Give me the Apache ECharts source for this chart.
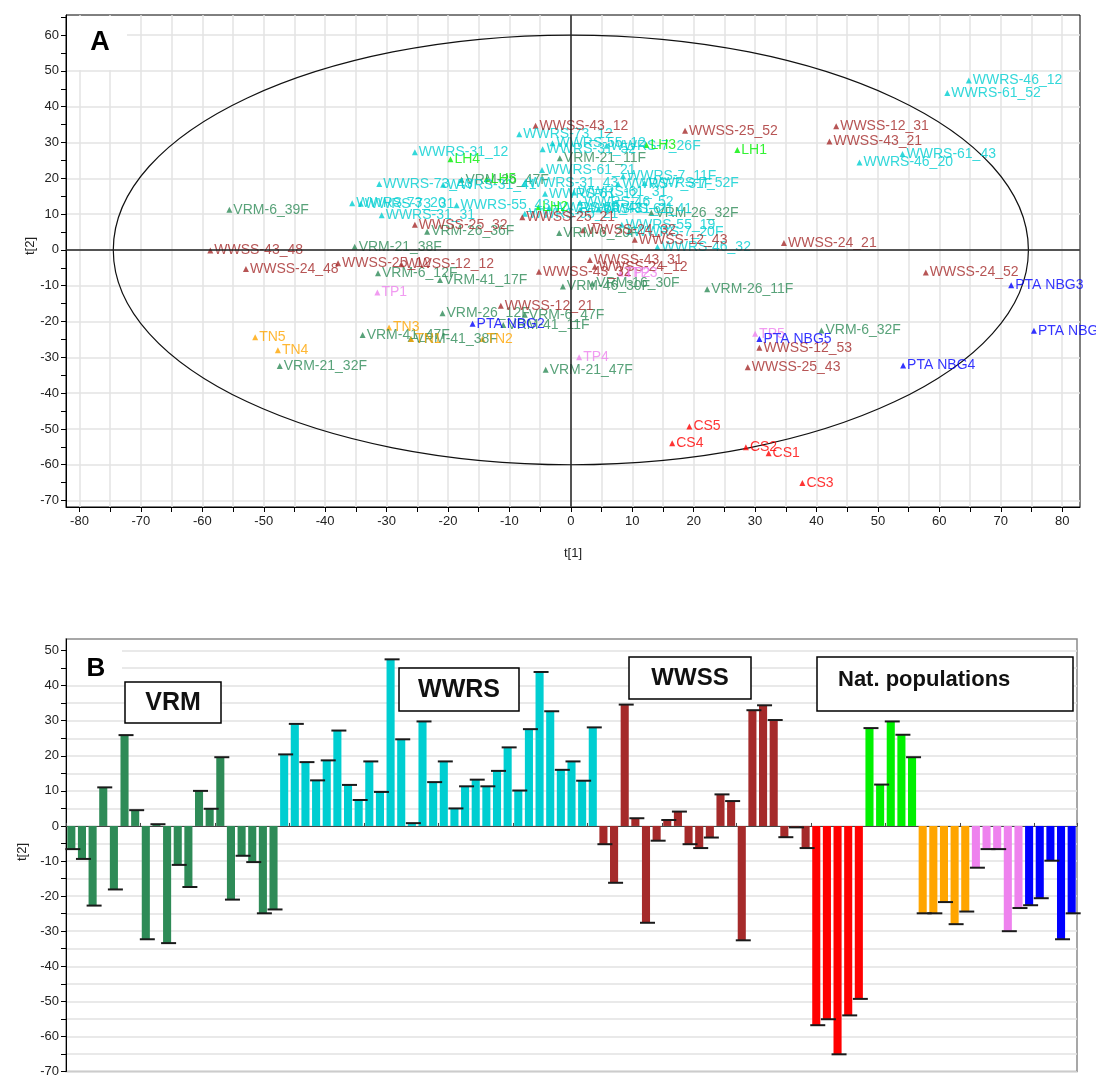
<!DOCTYPE html>
<html>
<head>
<meta charset="utf-8">
<title>PCA scores t[1]/t[2]</title>
<script src="https://cdn.jsdelivr.net/npm/echarts@6/dist/echarts.min.js"></script>
<style>
  html, body { margin: 0; padding: 0; background: #fff; }
  #main { width: 1096px; height: 1078px; }
</style>
</head>
<body>
<div id="main"></div>
<script>
// ---------- A: score plot, one triple of arrays per group (name, t[1], t[2]) ----------
var vrmNames = ['VRM-6_39F','VRM-21_11F','VRM-26_47F','VRM-26_32F','VRM-26_36F','VRM-6_20F','VRM-21_38F','VRM-6_12F','VRM-41_17F','VRM-46_30F',
                'VRM-16_30F','VRM-26_11F','VRM-26_12F','VRM-6_47F','VRM-41_11F','VRM-6_32F','VRM-41_47F','VRM-41_38F','VRM-21_32F','VRM-21_47F'];
var vrmT1 = [-55.6,-1.8,-17.8,13.1,-23.4,-1.9,-35.2,-31.4,-21.3,-1.3, 3.5,22.2,-20.9,-7.5,-11.0,40.8,-33.9,-26.1,-47.4,-4.1];
var vrmT2 = [11.2,25.6,19.6,10.4,5.1,4.7,0.9,-6.5,-8.4,-10.2, -9.4,-11.0,-17.7,-18.1,-21.0,-22.5,-23.8,-24.9,-32.4,-33.5];

var wwrsNames = ['WWRS-46_12','WWRS-61_52','WWRS-73_12','WWRS-55_12','WWRS-7_26F','WWRS-31_52','WWRS-31_12','WWRS-61_43','WWRS-46_20','WWRS-61_21',
                 'WWRS-7_11F','WWRS-73_43','WWRS-31_41','WWRS-31_43','WWRS-7_31F','WWRS-7_52F','WWRS-61_12','WWRS-61_31','WWRS-46_52','WWRS-73_20',
                 'WWRS-73_31','WWRS-55_43','WWRS-55_41','WWRS-55_21','WWRS-31_21','WWRS-61_41','WWRS-31_31','WWRS-55_19','WWRS-7_20F','WWRS-46_32'];
var wwrsT1 = [64.8,61.3,-8.4,-3.0,5.8,-4.6,-25.4,54.0,47.0,-4.7, 8.5,-31.2,-20.8,-7.5,7.7,12.0,-4.2,0.5,1.5,-35.6, -34.2,-18.6,-3.5,-7.5,1.5,4.5,-30.8,8.3,9.5,14.1];
var wwrsT2 = [47.3,43.8,32.3,29.8,29.1,28.1,27.3,26.8,24.4,22.3, 20.6,18.4,18.2,18.6,18.4,18.7,15.7,16.0,13.2,13.0, 12.9,12.5,11.7,10.1,11.3,11.3,9.7,7.0,5.0,0.8];

var wwssNames = ['WWSS-43_12','WWSS-12_31','WWSS-25_52','WWSS-43_21','WWSS-25_21','WWSS-25_32','WWSS-24_32','WWSS-12_43','WWSS-24_21','WWSS-43_48',
                 'WWSS-43_31','WWSS-25_12','WWSS-12_12','WWSS-24_12','WWSS-24_48','WWSS-43_32','WWSS-24_52','WWSS-12_21','WWSS-12_53','WWSS-25_43'];
var wwssT1 = [-5.75,43.2,18.6,42.1,-7.9,-25.4,2.0,10.4,34.7,-58.7, 3.1,-37.9,-27.6,3.9,-52.9,-5.2,57.8,-11.4,30.7,28.8];
var wwssT2 = [34.7,34.5,33.3,30.3,9.1,7.0,5.5,2.8,1.9,-0.2, -2.8,-3.7,-4.0,-4.7,-5.3,-6.1,-6.3,-15.6,-27.3,-32.8];

var csNames = ['CS1','CS2','CS3','CS4','CS5'];
var csT1 = [32.2,28.5,37.7,16.5,19.3];
var csT2 = [-56.8,-55.1,-65.1,-54.0,-49.3];

var lhNames = ['LH1','LH2','LH3','LH4','LH5'];
var lhT1 = [27.1,-5.3,12.3,-19.6,-13.7];
var lhT2 = [27.9,11.9,29.3,25.3,19.8];

var tnNames = ['TN1','TN2','TN3','TN4','TN5'];
var tnT1 = [-26.0,-14.4,-29.6,-47.7,-51.4];
var tnT2 = [-24.9,-24.9,-21.7,-28.0,-24.4];

var tpNames = ['TP1','TP2','TP3','TP4','TP5'];
var tpT1 = [-31.5,8.1,9.3,1.35,30.0];
var tpT2 = [-11.9,-6.6,-6.6,-30.0,-23.4];

var nbgNames = ['PTA NBG1','PTA NBG2','PTA NBG3','PTA NBG4','PTA NBG5'];
var nbgT1 = [75.4,-16.0,71.7,54.1,30.7];
var nbgT2 = [-22.6,-20.6,-9.9,-32.3,-24.9];

// Hotelling ellipse half-axes (t[1], t[2])
var ellipseRadii = [74.5, 60];

// axis ticks / labels for A
var aXLabels = [-80,-70,-60,-50,-40,-30,-20,-10,0,10,20,30,40,50,60,70,80];
var aXTicks = [-80,-75,-70,-65,-60,-55,-50,-45,-40,-35,-30,-25,-20,-15,-10,-5,0,5,10,15,20,25,30,35,40,45,50,55,60,65,70,75,80];
var aYLabels = [-70,-60,-50,-40,-30,-20,-10,0,10,20,30,40,50,60];
var aYTicks = [-70,-65,-60,-55,-50,-45,-40,-35,-30,-25,-20,-15,-10,-5,0,5,10,15,20,25,30,35,40,45,50,55,60,65];

// ---------- B: t[2] per sample, bar order as in the figure ----------
var vrmBars  = [-6.6,-9.4,-22.7,11.0,-18.1,25.9,4.5,-32.3,0.5,-33.4,-11.1,-17.4,10.0,4.9,19.6,-21.0,-8.5,-10.3,-24.9,-23.8];
var wwrsBars = [20.4,29.1,18.2,13.0,18.7,27.2,11.7,7.4,18.4,9.7,47.5,24.7,0.8,29.8,12.5,18.4,5.0,11.3,13.2,11.3,
                15.7,22.4,10.1,27.6,43.9,32.7,16.0,18.4,12.9,28.1];
var wwssBars = [-5.2,-16.2,34.6,2.2,-27.6,-4.2,1.7,4.1,-5.2,-6.3,-3.3,9.0,7.1,-32.6,33.0,34.4,30.2,-3.2,-0.4,-6.3];
var csBars   = [-56.8,-55.1,-65.1,-54.0,-49.3];
var lhBars   = [27.9,11.8,29.8,26.0,19.6];
var tnBars   = [-24.9,-24.9,-21.7,-28.0,-24.4];
var tpBars   = [-11.9,-6.6,-6.6,-30.0,-23.4];
var nbgBars  = [-22.6,-20.6,-9.9,-32.3,-24.9];

var bYLabels = [-70,-60,-50,-40,-30,-20,-10,0,10,20,30,40,50];
var bYTicks = [-70,-65,-60,-55,-50,-45,-40,-35,-30,-25,-20,-15,-10,-5,0,5,10,15,20,25,30,35,40,45,50];

var groups = [
  {code: 'VRM',  color: '#2E8B57', names: vrmNames,  t1: vrmT1,  t2: vrmT2,  bars: vrmBars},
  {code: 'WWRS', color: '#00CED1', names: wwrsNames, t1: wwrsT1, t2: wwrsT2, bars: wwrsBars},
  {code: 'WWSS', color: '#A52A2A', names: wwssNames, t1: wwssT1, t2: wwssT2, bars: wwssBars},
  {code: 'CS',   color: '#FF0000', names: csNames,   t1: csT1,   t2: csT2,   bars: csBars},
  {code: 'LH',   color: '#00F000', names: lhNames,   t1: lhT1,   t2: lhT2,   bars: lhBars},
  {code: 'TN',   color: '#FFA500', names: tnNames,   t1: tnT1,   t2: tnT2,   bars: tnBars},
  {code: 'TP',   color: '#EE82EE', names: tpNames,   t1: tpT1,   t2: tpT2,   bars: tpBars},
  {code: 'NBG',  color: '#0000FF', names: nbgNames,  t1: nbgT1,  t2: nbgT2,  bars: nbgBars}
];

var FONT = 'Liberation Sans, Arial, sans-serif';
var chart = echarts.init(document.getElementById('main'));

var series = [];

// ellipse, drawn through the axis scales
series.push({
  type: 'custom',
  xAxisIndex: 0, yAxisIndex: 0,
  z: 1, silent: true,
  data: [[0, 0]],
  renderItem: function (params, api) {
    var c = api.coord([api.value(0), api.value(1)]);
    var s = api.size(ellipseRadii);
    return {
      type: 'ellipse',
      shape: {cx: c[0], cy: c[1], rx: s[0], ry: s[1]},
      style: {fill: 'none', stroke: '#111', lineWidth: 1.2}
    };
  },
  markLine: {
    silent: true, symbol: ['none', 'none'],
    label: {show: false},
    lineStyle: {color: '#222', type: 'solid', width: 1.5},
    data: [{xAxis: 0}, {yAxis: 0}]
  }
});

groups.forEach(function (g) {
  var pts = g.names.map(function (n, i) { return [g.t1[i], g.t2[i], n]; });
  series.push({
    type: 'scatter',
    xAxisIndex: 0, yAxisIndex: 0,
    z: 3,
    symbol: 'triangle',
    symbolSize: 6,
    itemStyle: {color: g.color},
    label: {
      show: true, position: 'right', distance: 1,
      formatter: function (p) { return p.data[2]; },
      color: g.color, fontSize: 14, fontFamily: FONT
    },
    data: pts
  });
});

// bar chart data
var categories = [], barData = [], capData = [];
groups.forEach(function (g) {
  g.bars.forEach(function (v, i) {
    categories.push(g.code + (i + 1));
    barData.push({value: v, itemStyle: {color: g.color}});
    capData.push([categories.length - 1, v]);
  });
});

series.push({
  type: 'bar',
  xAxisIndex: 1, yAxisIndex: 2,
  barWidth: '76%',
  data: barData,
  z: 2
});
series.push({
  type: 'custom',
  xAxisIndex: 1, yAxisIndex: 2,
  z: 4, silent: true,
  data: capData,
  renderItem: function (params, api) {
    var p = api.coord([api.value(0), api.value(1)]);
    return {
      type: 'line',
      shape: {x1: p[0] - 6, y1: p[1], x2: p[0] + 9, y2: p[1]},
      style: {stroke: '#1a1a1a', lineWidth: 2}
    };
  }
});

var option = {
  animation: false,
  backgroundColor: '#fff',
  grid: [
    {left: 66, right: 16, top: 15, bottom: 571, show: true, borderColor: '#000', borderWidth: 1, backgroundColor: '#fff'},
    {left: 66, right: 19, top: 639, bottom: 3, show: true, borderColor: '#8a8a8a', borderWidth: 1.5, backgroundColor: '#fff'}
  ],
  xAxis: [
    {
      type: 'value', gridIndex: 0, min: -82.2, max: 82.9,
      axisLine: {onZero: false, lineStyle: {color: '#000'}},
      axisTick: {customValues: aXTicks, length: 5, lineStyle: {color: '#000'}},
      axisLabel: {customValues: aXLabels, margin: 8, color: '#222', fontSize: 13, fontFamily: FONT},
      splitLine: {show: true, lineStyle: {color: '#e3e3e3', width: 1.5}}
    },
    {
      type: 'category', gridIndex: 1, data: categories, boundaryGap: true,
      axisLine: {onZero: true, lineStyle: {color: '#444', width: 1.2}},
      axisTick: {show: true, inside: true, length: 3, lineStyle: {color: '#444'}},
      axisLabel: {show: false},
      splitLine: {show: false}
    }
  ],
  yAxis: [
    {
      type: 'value', gridIndex: 0, min: -71.8, max: 65.6,
      axisLine: {show: true, onZero: false, lineStyle: {color: '#000'}},
      axisTick: {show: true, customValues: aYTicks, length: 5, lineStyle: {color: '#000'}},
      axisLabel: {customValues: aYLabels, margin: 7, color: '#222', fontSize: 13, fontFamily: FONT},
      splitLine: {show: false}
    },
    {
      type: 'value', gridIndex: 0, min: -71.8, max: 65.6, position: 'left',
      axisLine: {show: false},
      axisTick: {show: false, customValues: aYLabels},
      axisLabel: {show: false},
      splitLine: {show: true, lineStyle: {color: '#e3e3e3', width: 1.5}}
    },
    {
      type: 'value', gridIndex: 1, min: -70, max: 53.3,
      axisLine: {show: true, onZero: false, lineStyle: {color: '#000'}},
      axisTick: {show: true, customValues: bYTicks, length: 5, lineStyle: {color: '#000'}},
      axisLabel: {customValues: bYLabels, margin: 7, color: '#222', fontSize: 13, fontFamily: FONT},
      splitLine: {show: true, lineStyle: {color: '#e2e2e2', width: 1.5}}
    }
  ],
  series: series,
  graphic: [
    // panel A letter on a white patch
    {type: 'rect', z: 50, shape: {x: 67, y: 16, width: 60, height: 54}, style: {fill: '#fff'}},
    {type: 'text', z: 51, x: 100, y: 43, style: {text: 'A', fontSize: 27, fontWeight: 'bold', fontFamily: FONT, fill: '#000', align: 'center', verticalAlign: 'middle'}},
    {type: 'text', z: 51, x: 573, y: 553, style: {text: 't[1]', fontSize: 13, fontFamily: FONT, fill: '#222', align: 'center', verticalAlign: 'middle'}},
    {type: 'text', z: 51, x: 30, y: 246, rotation: Math.PI / 2, style: {text: 't[2]', fontSize: 13, fontFamily: FONT, fill: '#222', align: 'center', verticalAlign: 'middle'}},

    // panel B letter, axis name and group boxes
    {type: 'rect', z: 50, shape: {x: 67, y: 640, width: 55, height: 40}, style: {fill: '#fff'}},
    {type: 'text', z: 51, x: 96, y: 669, style: {text: 'B', fontSize: 26, fontWeight: 'bold', fontFamily: FONT, fill: '#000', align: 'center', verticalAlign: 'middle'}},
    {type: 'text', z: 51, x: 22, y: 852, rotation: Math.PI / 2, style: {text: 't[2]', fontSize: 13, fontFamily: FONT, fill: '#222', align: 'center', verticalAlign: 'middle'}},

    {type: 'rect', z: 50, shape: {x: 125, y: 682, width: 96, height: 41}, style: {fill: '#fff', stroke: '#000', lineWidth: 1.5}},
    {type: 'text', z: 51, x: 173, y: 703, style: {text: 'VRM', fontSize: 25, fontWeight: 'bold', fontFamily: FONT, fill: '#111', align: 'center', verticalAlign: 'middle'}},
    {type: 'rect', z: 50, shape: {x: 399, y: 668, width: 120, height: 43}, style: {fill: '#fff', stroke: '#000', lineWidth: 1.5}},
    {type: 'text', z: 51, x: 459, y: 690, style: {text: 'WWRS', fontSize: 25, fontWeight: 'bold', fontFamily: FONT, fill: '#111', align: 'center', verticalAlign: 'middle'}},
    {type: 'rect', z: 50, shape: {x: 629, y: 657, width: 122, height: 42}, style: {fill: '#fff', stroke: '#000', lineWidth: 1.5}},
    {type: 'text', z: 51, x: 690, y: 678, style: {text: 'WWSS', fontSize: 24, fontWeight: 'bold', fontFamily: FONT, fill: '#111', align: 'center', verticalAlign: 'middle'}},
    {type: 'rect', z: 50, shape: {x: 817, y: 657, width: 256, height: 54}, style: {fill: '#fff', stroke: '#000', lineWidth: 1.5}},
    {type: 'text', z: 51, x: 838, y: 680, style: {text: 'Nat. populations', fontSize: 22, fontWeight: 'bold', fontFamily: FONT, fill: '#111', align: 'left', verticalAlign: 'middle'}}
  ]
};

chart.setOption(option);
window.addEventListener('resize', function () { chart.resize(); });
</script>
</body>
</html>
